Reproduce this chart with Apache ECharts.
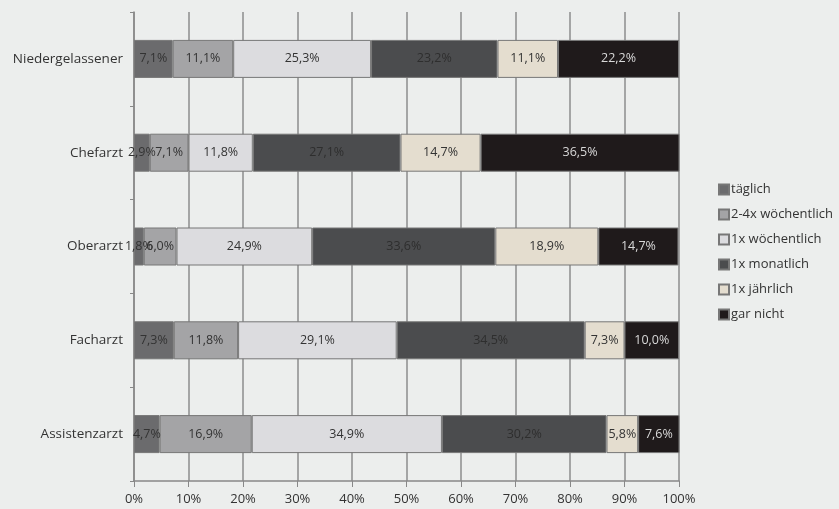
<!DOCTYPE html>
<html><head><meta charset="utf-8">
<script src="https://cdn.jsdelivr.net/npm/echarts@6/dist/echarts.min.js"></script>
<style>html,body{margin:0;padding:0;background:#eceeed;}#c{width:839px;height:509px;}</style>
</head><body><div id="c"></div>
<script>
const categories = ['Niedergelassener','Chefarzt','Oberarzt','Facharzt','Assistenzarzt'];
const seriesNames = ['täglich','2-4x wöchentlich','1x wöchentlich','1x monatlich','1x jährlich','gar nicht'];
const taeglich = [7.1, 2.9, 1.8, 7.3, 4.7];
const woech24 = [11.1, 7.1, 6.0, 11.8, 16.9];
const woech1 = [25.3, 11.8, 24.9, 29.1, 34.9];
const monatlich = [23.2, 27.1, 33.6, 34.5, 30.2];
const jaehrlich = [11.1, 14.7, 18.9, 7.3, 5.8];
const garNicht = [22.2, 36.5, 14.7, 10.0, 7.6];
const xTicks = [0,10,20,30,40,50,60,70,80,90,100];

const values = [taeglich, woech24, woech1, monatlich, jaehrlich, garNicht];
const colors = ['#6b6b6d','#a4a4a6','#dcdcdf','#4b4c4e','#e4ddcf','#1f1a1b'];
const labelColors = ['#333','#333','#333','#2e2e2e','#333','#d8d8d8'];
const font = '"Open Sans", sans-serif';

const chart = echarts.init(document.getElementById('c'));
chart.setOption({
  backgroundColor: '#eceeed',
  animation: false,
  grid: {left: 134, right: 160, top: 12, bottom: 28},
  legend: {
    orient: 'vertical', left: 713, top: 177, itemGap: 10,
    itemWidth: 10, itemHeight: 10, icon: 'rect',
    textStyle: {fontFamily: font, fontSize: 13, lineHeight: 15, color: '#333', padding: [0,0,0,-3]},
    data: seriesNames
  },
  xAxis: {
    type: 'value', min: 0, max: 100, interval: 10,
    axisLabel: {formatter: v => v + '%', fontFamily: font, fontSize: 13, color: '#333', margin: 12},
    axisLine: {show: true, lineStyle: {color: '#888', width: 1.5}},
    axisTick: {show: true, length: 6, lineStyle: {color: '#888'}},
    splitLine: {show: true, lineStyle: {color: '#8c8c8c', width: 1.5}}
  },
  yAxis: {
    type: 'category', data: categories, inverse: true,
    axisLabel: {fontFamily: font, fontSize: 13.5, color: '#333', margin: 11},
    axisLine: {show: true, lineStyle: {color: '#888', width: 1.5}},
    axisTick: {show: true, length: 4, lineStyle: {color: '#888'}}
  },
  series: seriesNames.map((n, i) => ({
    name: n, type: 'bar', stack: 'total', barWidth: 38,
    data: values[i],
    itemStyle: {color: colors[i], borderColor: '#777', borderWidth: 1},
    label: {
      show: true, position: 'inside', formatter: p => p.value.toFixed(1).replace('.', ',') + '%',
      fontFamily: font, fontSize: 12.5, color: labelColors[i]
    }
  }))
});
</script></body></html>
